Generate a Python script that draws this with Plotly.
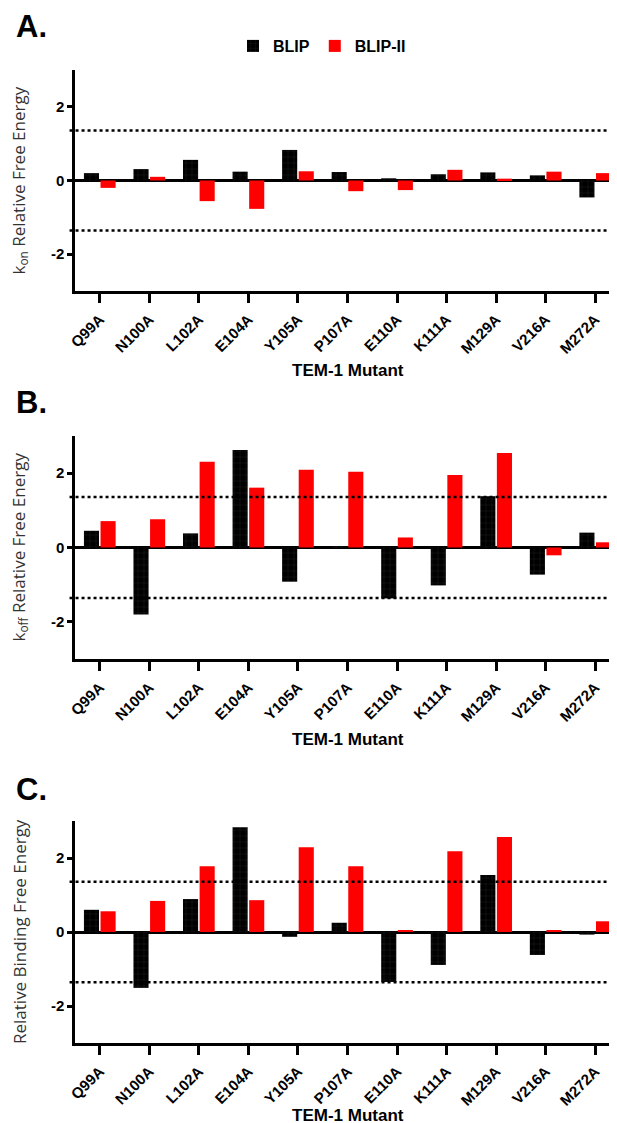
import plotly.graph_objects as go

# TEM-1 mutants on the x axis
mutants = ["Q99A", "N100A", "L102A", "E104A", "Y105A", "P107A",
           "E110A", "K111A", "M129A", "V216A", "M272A"]

# panel A: kon relative free energy
kon_blip = [0.20, 0.31, 0.56, 0.24, 0.83, 0.23, 0.06, 0.17, 0.22, 0.14, -0.46]
kon_blip2 = [-0.20, 0.10, -0.56, -0.77, 0.25, -0.29, -0.26, 0.29, 0.05, 0.24, 0.20]

# panel B: koff relative free energy
koff_blip = [0.45, -1.80, 0.38, 2.62, -0.92, 0.03, -1.37, -1.02, 1.38, -0.73, 0.40]
koff_blip2 = [0.71, 0.76, 2.31, 1.61, 2.09, 2.04, 0.27, 1.95, 2.54, -0.21, 0.14]

# panel C: relative binding free energy
bind_blip = [0.60, -1.51, 0.89, 2.83, -0.13, 0.25, -1.35, -0.89, 1.54, -0.62, -0.07]
bind_blip2 = [0.56, 0.84, 1.78, 0.86, 2.29, 1.78, 0.04, 2.18, 2.57, 0.04, 0.29]

cutoff = 1.36  # 10-fold change line

W, H = 617, 1123
ML, MR = 67, 5
PW = W - ML - MR

def py(px):
    return 1 - px / H

def pxx(px):
    return (px - ML) / PW

panels = [
    ("A.", kon_blip, kon_blip2, "k<sub>on</sub> Relative Free Energy", (62, 283), 19, 362),
    ("B.", koff_blip, koff_blip2, "k<sub>off</sub> Relative Free Energy", (428, 651), 395, 731),
    ("C.", bind_blip, bind_blip2, "Relative Binding Free Energy", (813, 1035), 781, 1107),
]

bold = dict(family="Liberation Sans", color="black", weight="bold")

fig = go.Figure()
annotations = []
shapes = []

for i, (letter, blip, blip2, ytitle, (top, bottom), ly, xty) in enumerate(panels):
    n = "" if i == 0 else str(i + 1)
    fig.add_trace(go.Bar(
        x=mutants, y=blip, name="BLIP", marker_color="black",
        marker_pattern=dict(shape="+", fgcolor="#3a3a3a", size=6, solidity=0.15),
        marker_line_width=0, showlegend=(i == 0),
        xaxis="x" + n, yaxis="y" + n))
    fig.add_trace(go.Bar(
        x=mutants, y=blip2, name="BLIP-II", marker_color="#ff0000",
        marker_line_width=0, showlegend=(i == 0),
        xaxis="x" + n, yaxis="y" + n))

    fig.update_layout({
        "xaxis" + n: dict(
            domain=[0, 1], anchor="y" + n, showline=True, linecolor="black",
            linewidth=2.5, ticks="outside", ticklen=9, tickwidth=2.5,
            tickcolor="black", tickangle=-45, ticklabelstandoff=2,
            tickfont=dict(bold, size=15), showgrid=False, automargin=False),
        "yaxis" + n: dict(
            domain=[py(bottom), py(top)], anchor="x" + n, range=[-3, 3],
            showline=True, linecolor="black", linewidth=2.5,
            ticks="outside", ticklen=5, tickwidth=2.5, tickcolor="black",
            tickvals=[-2, 0, 2], ticktext=["-2", "0", "2"],
            tickfont=dict(bold, size=15), showgrid=False,
            zeroline=True, zerolinecolor="black", zerolinewidth=2.5,
            automargin=False),
    })

    for yv in (cutoff, -cutoff):
        shapes.append(dict(
            type="line", xref="x" + n + " domain", yref="y" + n,
            x0=-0.01, x1=1, y0=yv, y1=yv,
            line=dict(color="black", width=2.5, dash="dot")))

    annotations.append(dict(
        text=letter, xref="paper", yref="paper", x=pxx(6), y=py(ly),
        xanchor="left", yanchor="middle", showarrow=False,
        font=dict(bold, size=31)))
    annotations.append(dict(
        text=ytitle, xref="paper", yref="paper", x=pxx(11),
        y=py((top + bottom) / 2), xanchor="center", yanchor="middle",
        textangle=-90, showarrow=False,
        font=dict(family="Open Sans", size=17, color="#333333")))
    annotations.append(dict(
        text="TEM-1 Mutant", xref="paper", yref="paper", x=0.5, y=py(xty),
        xanchor="center", yanchor="middle", showarrow=False,
        font=dict(bold, size=17)))

fig.update_layout(
    width=W, height=H,
    margin=dict(l=ML, r=MR, t=0, b=0),
    paper_bgcolor="white", plot_bgcolor="white",
    barmode="group", bargap=0.33, bargroupgap=0.09,
    showlegend=True,
    legend=dict(orientation="h", x=pxx(314), y=py(38), xanchor="center",
                yanchor="middle", font=dict(bold, size=16),
                bgcolor="rgba(0,0,0,0)"),
    annotations=annotations, shapes=shapes,
)

fig.write_html("out.html")
